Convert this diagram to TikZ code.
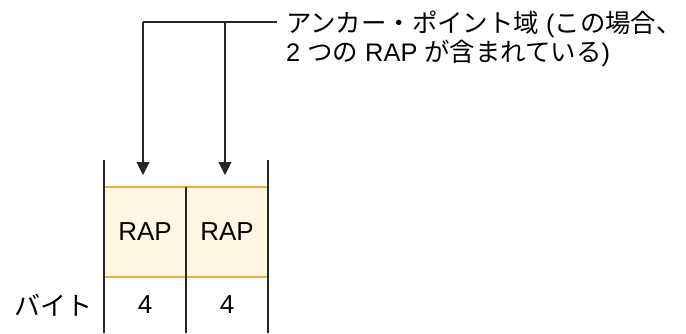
\documentclass[tikz,border=0pt]{standalone}
\usepackage{fontspec}
\setmainfont{Liberation Sans}
\newfontfamily\jp{Noto Sans CJK JP}
\usetikzlibrary{arrows.meta}
\definecolor{cellfill}{HTML}{FDF7E4}
\definecolor{cellline}{HTML}{EDAA45}
\begin{document}
\begin{tikzpicture}[x=1pt,y=1pt,
  txt/.style={font=\fontsize{26}{29}\selectfont, inner sep=0pt},
  wall/.style={line width=1.1pt, black!85},
  conn/.style={line width=1.1pt, black!85},
  arr/.style={conn, -{Triangle[width=13pt,length=13pt]}}]
\useasboundingbox (0,0) rectangle (686,333);
% cells (y_tikz = 333 - y_px)
\fill[cellfill] (104,146) rectangle (268,56);
\node[txt] (rap1) at (145,101) {RAP};
\node[txt] (rap2) at (227,101) {RAP};
\node[txt] (b1) at (145,28) {4};
\node[txt] (b2) at (227,28) {4};
\node[txt, anchor=east] (bytes) at (93,28) {\jp バイト};
\draw[cellline, line width=1.4pt] (104,146) -- (268,146);
\draw[cellline, line width=1.4pt] (104,56) -- (268,56);
\draw[wall] (104,173) -- (104,0);
\draw[wall] (186,146) -- (186,0);
\draw[wall] (268,173) -- (268,0);
% label
\node[txt, font=\fontsize{25.4}{29}\selectfont, anchor=north west, align=left] (lbl) at (286,322)
  {{\jp アンカー・ポイント域} ({\jp この場合\makebox[0.3em][l]{、}}\\2 {\jp つの} RAP {\jp が含まれている})};
\coordinate (j1) at (143,311);
\coordinate (j2) at (225,311);
\coordinate (lend) at (277,311);
\coordinate (t1) at (143,158);
\coordinate (t2) at (225,158);
\draw[conn] (j1) -- (lend);
\draw[arr] (j1) -- (t1);
\draw[arr] (j2) -- (t2);
\end{tikzpicture}
\end{document}
